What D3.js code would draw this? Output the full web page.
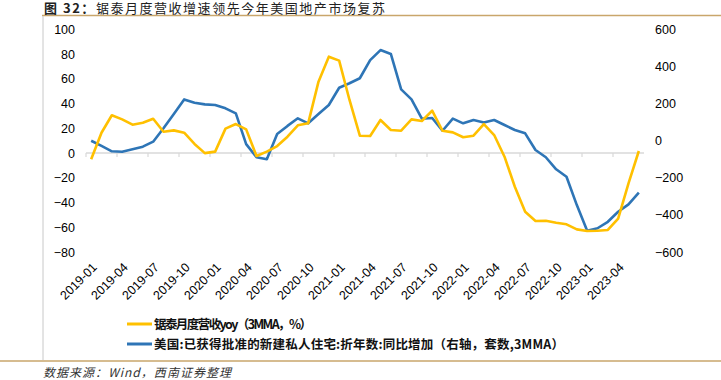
<!DOCTYPE html>
<html>
<head>
<meta charset="utf-8">
<script src="https://cdn.jsdelivr.net/npm/d3@7"></script>
<style>
  body { margin: 0; background: #fff; }
  svg { display: block; }
</style>
</head>
<body>
<div id="chart"></div>
<script>
// months 2019-01 .. 2023-06
const months = [];
for (let y = 2019; y <= 2023; y++) {
  for (let m = 1; m <= 12; m++) {
    if (y === 2023 && m > 6) break;
    months.push(y + "-" + String(m).padStart(2, "0"));
  }
}

// yellow, left axis (%)
const revenueYoy = [
  -5, 16.5, 30.6, 27.3, 23, 24.6, 27.8, 17.3, 18.4, 16.5,
  7.4, 0, 1.2, 19.8, 23.5, 19.2, -2.3, 1.2, 5.7, 13.3,
  22.5, 24.1, 57.8, 78, 74.8, 43, 14.1, 13.8, 26.8, 18.7,
  18.1, 27.3, 26, 34.3, 18.1, 16.8, 12.8, 14.1, 23.5, 14.6,
  -2.9, -27.2, -47.4, -54.9, -54.7, -56.3, -57.6, -61.7, -63, -62.8,
  -62.2, -53, -24.5, 1.7
];

// blue, right axis (units)
const permitsChg = [
  0, -28, -57, -59, -46, -32, -5, 67, 144, 223,
  205, 196, 193, 175, 148, -18, -89, -100, 36, 80,
  121, 94, 144, 193, 286, 310, 337, 435, 489, 468,
  277, 223, 119, 123, 54, 119, 94, 112, 99, 112,
  85, 58, 40, -50, -89, -154, -194, -347, -485, -472,
  -437, -383, -343, -280
];

const leftTicks = [-80, -60, -40, -20, 0, 20, 40, 60, 80, 100];
const rightTicks = [-600, -400, -200, 0, 200, 400, 600];
const labelMonths = months.filter((d, i) => i % 3 === 0 && i <= 51);

const W = 721, H = 380;
const plot = { left: 86, right: 644, top: 29.5, bottom: 252 };
const YELLOW = "#FFC000", BLUE = "#2E75B6";

const svg = d3.select("#chart").append("svg")
  .attr("width", W).attr("height", H);

// frame
const tan = "#C9A66B";
svg.append("line").attr("x1", 42).attr("x2", W).attr("y1", 15.5).attr("y2", 15.5)
  .attr("stroke", tan).attr("stroke-width", 1.5);
svg.append("line").attr("x1", 0).attr("x2", W).attr("y1", 361).attr("y2", 361)
  .attr("stroke", tan).attr("stroke-width", 1.5);
svg.append("line").attr("x1", 43).attr("x2", 43).attr("y1", 16).attr("y2", 360)
  .attr("stroke", "#c8c8c8").attr("stroke-width", 1);

// title
const title = svg.append("text").attr("x", 44).attr("y", 13)
  .attr("font-family", "'Noto Sans CJK SC', sans-serif")
  .attr("font-size", 13).attr("fill", "#222")
  .attr("textLength", 341).attr("lengthAdjust", "spacing");
title.append("tspan").attr("font-weight", "bold").text("图 32：");
title.append("tspan").text("锯泰月度营收增速领先今年美国地产市场复苏");

// scales
const x = d3.scaleBand().domain(months).range([plot.left, plot.right]).padding(0);
const xc = d => x(d) + x.bandwidth() / 2;
const xPoint = d3.scalePoint().domain(months).range([plot.left, plot.right]).padding(0.5);
const yL = d3.scaleLinear().domain([-80, 100]).range([plot.bottom, plot.top]);
const yR = d3.scaleLinear().domain([-600, 600]).range([plot.bottom, plot.top]);

const axisFont = "'Liberation Sans', Arial, sans-serif";

// left axis
const gL = svg.append("g").attr("transform", `translate(${plot.left},0)`)
  .call(d3.axisLeft(yL).tickValues(leftTicks).tickSize(0).tickPadding(11));
gL.select(".domain").remove();
gL.selectAll("text").attr("font-family", axisFont).attr("font-size", 12.5).attr("fill", "#000");

// right axis
const gR = svg.append("g").attr("transform", `translate(${plot.right},0)`)
  .call(d3.axisRight(yR).tickValues(rightTicks).tickSize(0).tickPadding(11));
gR.select(".domain").remove();
gR.selectAll("text").attr("font-family", axisFont).attr("font-size", 12.5).attr("fill", "#000");

// category axis at zero line
const y0 = yL(0);
svg.append("line").attr("x1", plot.left).attr("x2", plot.right)
  .attr("y1", y0).attr("y2", y0).attr("stroke", "#d9d9d9").attr("stroke-width", 1.5);
svg.append("g").selectAll("line")
  .data(months.filter((d, i) => i % 3 === 0))
  .join("line")
  .attr("x1", d => x(d)).attr("x2", d => x(d))
  .attr("y1", y0).attr("y2", y0 + 4)
  .attr("stroke", "#d9d9d9").attr("stroke-width", 1.2);

// labels below plot
const gX = svg.append("g").attr("transform", `translate(0,${plot.bottom + 13})`)
  .call(d3.axisBottom(xPoint).tickValues(labelMonths).tickSize(0).tickPadding(0));
gX.select(".domain").remove();
gX.selectAll("text")
  .attr("font-family", axisFont).attr("font-size", 12.5).attr("fill", "#000")
  .attr("text-anchor", "end").attr("dy", "0.35em")
  .attr("transform", "translate(3,0) rotate(-45)");

// lines
const lineL = d3.line().x((d, i) => xc(months[i])).y(d => yL(d));
const lineR = d3.line().x((d, i) => xc(months[i])).y(d => yR(d));

svg.append("path").datum(permitsChg)
  .attr("fill", "none").attr("stroke", BLUE).attr("stroke-width", 2.6)
  .attr("stroke-linejoin", "round").attr("d", lineR);
svg.append("path").datum(revenueYoy)
  .attr("fill", "none").attr("stroke", YELLOW).attr("stroke-width", 2.6)
  .attr("stroke-linejoin", "round").attr("d", lineL);

// legend
const legend = [
  { color: YELLOW, label: "锯泰月度营收yoy（3MMA，%）", y: 324, len: 158 },
  { color: BLUE, label: "美国:已获得批准的新建私人住宅:折年数:同比增加（右轴，套数,3MMA）", y: 344, len: 410 }
];
const gLeg = svg.append("g");
legend.forEach(d => {
  gLeg.append("line").attr("x1", 127).attr("x2", 152).attr("y1", d.y).attr("y2", d.y)
    .attr("stroke", d.color).attr("stroke-width", 3);
  gLeg.append("text").attr("x", 154).attr("y", d.y + 4.5)
    .attr("font-family", "'Noto Sans CJK SC', sans-serif")
    .attr("font-size", 12.5).attr("font-weight", 600).attr("fill", "#111")
    .attr("textLength", d.len).attr("lengthAdjust", "spacing")
    .text(d.label);
});

// source note
svg.append("text").attr("x", 43).attr("y", 377)
  .attr("font-family", "'Noto Sans CJK SC', sans-serif")
  .attr("font-size", 12).attr("font-style", "italic").attr("fill", "#333")
  .attr("textLength", 188).attr("lengthAdjust", "spacing")
  .text("数据来源：Wind，西南证券整理");
</script>
</body>
</html>
